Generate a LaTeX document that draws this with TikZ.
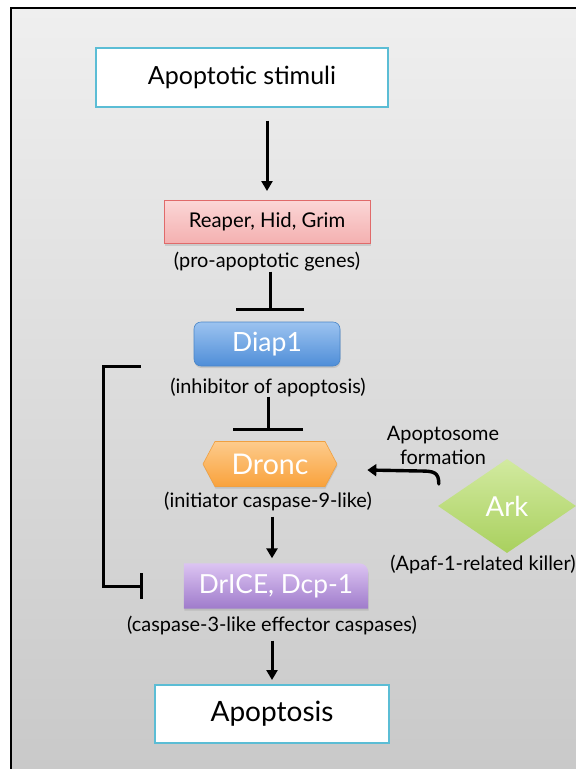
\documentclass[tikz,border=0pt]{standalone}
\usepackage{fontspec}
\setmainfont{Lato}
\usetikzlibrary{arrows.meta, positioning, shapes.geometric, shapes.symbols, backgrounds, shadows}
\definecolor{clrBgTop}{HTML}{EFEFEF}
\definecolor{clrBgBot}{HTML}{C9C9C9}
\definecolor{clrEndBd}{HTML}{5BBDD5}
\definecolor{clrRprTop}{HTML}{FBD6D6}
\definecolor{clrRprBot}{HTML}{F4B0B0}
\definecolor{clrRprBd}{HTML}{E06A6A}
\definecolor{clrDiapTop}{HTML}{9CC3F0}
\definecolor{clrDiapBot}{HTML}{4F8ED8}
\definecolor{clrDiapBd}{HTML}{4A86C8}
\definecolor{clrDrnTop}{HTML}{FDCB8C}
\definecolor{clrDrnBot}{HTML}{F9A23C}
\definecolor{clrDrnBd}{HTML}{F0A040}
\definecolor{clrDrcTop}{HTML}{DCC4F2}
\definecolor{clrDrcBot}{HTML}{9F7BCB}
\definecolor{clrArkTop}{HTML}{D2EAA0}
\definecolor{clrArkBot}{HTML}{A9D05E}

\begin{document}
\begin{tikzpicture}[
  x=1pt, y=-1pt,
  shd/.style = {drop shadow={opacity=0.25, shadow xshift=0.5pt, shadow yshift=-2pt}},
  endbox/.style = {
    rectangle,
    draw=clrEndBd, fill=white, line width=2pt,
    font=\fontsize{25}{30}\selectfont, inner sep=0pt
  },
  rprbox/.style = {
    rectangle, shd,
    draw=clrRprBd, line width=1pt,
    top color=clrRprTop, bottom color=clrRprBot,
    font=\fontsize{20.3}{24}\selectfont, inner sep=0pt,
    minimum width=206pt, minimum height=43pt
  },
  diapbox/.style = {
    rectangle, rounded corners=7pt, shd,
    draw=clrDiapBd, line width=0.6pt,
    top color=clrDiapTop, bottom color=clrDiapBot,
    text=white, font=\fontsize{26.5}{31}\selectfont, inner sep=0pt,
    minimum width=146pt, minimum height=44pt
  },
  drnbox/.style = {
    signal, signal to=west and east, signal pointer angle=124, shd,
    draw=clrDrnBd, line width=0.6pt,
    top color=clrDrnTop, bottom color=clrDrnBot,
    text=white, font=\fontsize{28.5}{33}\selectfont, inner sep=0pt,
    minimum width=134pt, minimum height=45pt
  },
  drcbox/.style = {
    rectangle,
    text=white, font=\fontsize{26.3}{31}\selectfont, inner sep=0pt,
    minimum width=184pt, minimum height=45pt
  },
  arkbox/.style = {
    diamond,
    top color=clrArkTop, bottom color=clrArkBot,
    text=white, font=\fontsize{27.5}{32}\selectfont, inner sep=0pt,
    minimum width=138pt, minimum height=94pt
  },
  lbl/.style  = {font=\fontsize{19.9}{24}\selectfont, inner sep=0pt, align=center},
  arr/.style  = {-{Triangle[length=10pt, width=11pt]}, line width=3pt},
  inh/.style  = {line width=3pt},
  curv/.style = {-{Triangle[length=9pt, width=12pt]}, line width=3.4pt, line cap=round}
]
  \useasboundingbox (0,0) rectangle (576,769);

  \node[endbox, minimum width=292pt, minimum height=59pt] (stim) at (242,77)  {Apoptotic stimuli};
  \node[rprbox]                      (reaper)  at (267,222) {Reaper, Hid, Grim};
  \node[lbl]                         (rprlbl)  at (267,262) {(pro-apoptotic genes)};
  \node[diapbox]                     (diap)    at (267,344) {Diap1};
  \node[lbl]                         (diaplbl) at (268,387) {(inhibitor of apoptosis)};
  \node[drnbox]                      (dronc)   at (270,464) {Dronc};
  \node[lbl]                         (drnlbl)  at (268,501) {(initiator caspase-9-like)};
  \node[drcbox]                      (drice)   at (276,586) {DrICE, Dcp-1};
  \node[lbl]                         (drclbl)  at (272,625) {(caspase-3-like effector caspases)};
  \node[endbox, minimum width=234pt, minimum height=58pt, font=\fontsize{28}{33}\selectfont] (apop) at (272,714) {Apoptosis};
  \node[arkbox]                      (ark)     at (507,506) {Ark};
  \node[lbl]                         (arklbl)  at (483,564) {(Apaf-1-related killer)};
  \node[lbl]                         (aptlbl)  at (443,445) {Apoptosome\\formation};

  \begin{scope}[on background layer]
    \shade[top color=clrBgTop, bottom color=clrBgBot] (11,8) rectangle (576,769);
    \shade[shd, top color=clrDrcTop, bottom color=clrDrcBot]
      (drice.south west) -- (drice.north west) -- ([xshift=-9pt]drice.north east)
      arc[start angle=90, end angle=0, radius=9pt] -- (drice.south east) -- cycle;
  \end{scope}
  \draw[line width=1.5pt] (11,769) -- (11,8) -- (576,8);

  \draw[arr, shorten <=13pt, shorten >=9pt] (reaper.north |- stim.south) -- (reaper.north);
  \draw[inh, -{Bar[width=68pt]}, shorten >=11pt] ([xshift=3pt]rprlbl.south) -- ([xshift=3pt]diap.north);
  \draw[inh, -{Bar[width=70pt]}, shorten >=10pt] (diaplbl.south) -- (diaplbl.south |- dronc.north);
  \draw[arr, shorten <=6pt, shorten >=5pt] ([xshift=4pt]drnlbl.south) -- ([xshift=4pt]drnlbl.south |- drice.north);
  \draw[arr, shorten <=6pt, shorten >=4pt] (drclbl.south) -- (drclbl.south |- apop.north);
  \draw[inh, -{Bar[width=26pt]}] ([xshift=-53pt]diap.south west) -- ++(-37,0) |- ([xshift=-41pt]drice.west);
  \draw[curv] ([shift={(1,-22)}]ark.west) .. controls +(0,-12) and +(14,0) .. ([shift={(-18,-35)}]ark.west)
    -- ([shift={(30,6)}]dronc.east);
\end{tikzpicture}
\end{document}
